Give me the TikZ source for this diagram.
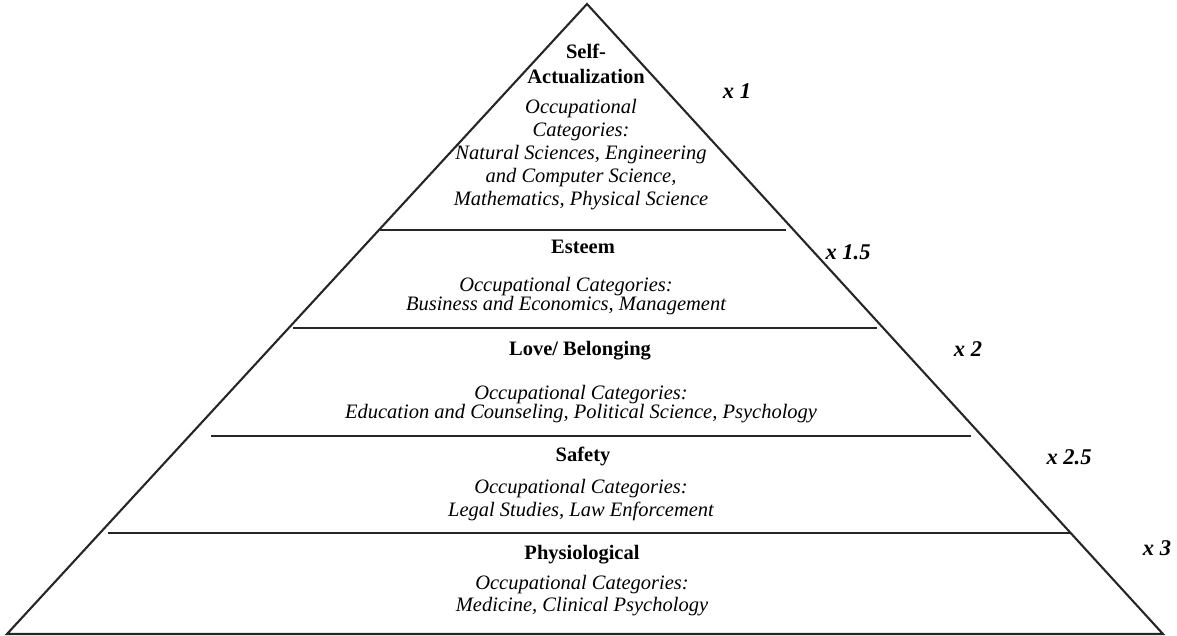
\documentclass[tikz,border=0pt]{standalone}
\usepackage{fontspec}
\setmainfont{Liberation Serif}
\begin{document}
\begin{tikzpicture}[x=1pt,y=-1pt,
  edge/.style={line width=2.1pt, black!85, line cap=round, line join=miter},
  divider/.style={line width=2.1pt, black!85},
  tiertitle/.style={font=\fontsize{20.5}{25}\selectfont\bfseries, align=center, inner sep=0pt},
  tierbody/.style={font=\fontsize{20.5}{23}\selectfont\itshape, align=center, inner sep=0pt},
  factor/.style={font=\fontsize{22.5}{25}\selectfont\bfseries\itshape, inner sep=0pt, text height=15pt, text depth=5pt}
]
\useasboundingbox (0,0) rectangle (1177,636);

% outline of the pyramid
\coordinate (apex) at (587,4);
\coordinate (baseL) at (7,634);
\coordinate (baseR) at (1163,634);
\draw[edge] (baseL) -- (apex) -- (baseR) -- cycle;

% dividers between the levels
\coordinate (d1L) at (380,230);  \coordinate (d1R) at (786,230);
\coordinate (d2L) at (293,328);  \coordinate (d2R) at (877,328);
\coordinate (d3L) at (211,436);  \coordinate (d3R) at (971,436);
\coordinate (d4L) at (108,533);  \coordinate (d4R) at (1070,533);
\draw[divider] (d1L) -- (d1R);
\draw[divider] (d2L) -- (d2R);
\draw[divider] (d3L) -- (d3R);
\draw[divider] (d4L) -- (d4R);

% level 1
\node[tiertitle] (selfT) at (586,64) {Self-\\Actualization};
\node[tierbody] (selfB) at (581,155) {Occupational\\Categories:\\Natural Sciences, Engineering\\and Computer Science,\\Mathematics, Physical Science};
% level 2
\node[tiertitle, text height=14pt, text depth=4.5pt] (estT) at (583,249) {Esteem};
\node[tierbody] (estB) at (566,296.5) {Occupational Categories:\\[-4pt]Business and Economics, Management};
% level 3
\node[tiertitle, text height=14pt, text depth=4.5pt] (loveT) at (580,351) {Love/ Belonging};
\node[tierbody] (loveB) at (581,404) {Occupational Categories:\\[-4pt]Education and Counseling, Political Science, Psychology};
% level 4
\node[tiertitle, text height=14pt, text depth=4.5pt] (safeT) at (583,457) {Safety};
\node[tierbody] (safeB) at (581,500.5) {Occupational Categories:\\Legal Studies, Law Enforcement};
% level 5
\node[tiertitle, text height=14pt, text depth=4.5pt] (physT) at (582,555) {Physiological};
\node[tierbody] (physB) at (582,596) {Occupational Categories:\\[-1pt]Medicine, Clinical Psychology};

% multipliers beside the levels
\node[factor] (f1) at (737,94) {x 1};
\node[factor] (f2) at (848,255) {x 1.5};
\node[factor] (f3) at (968,351) {x 2};
\node[factor] (f4) at (1069,459) {x 2.5};
\node[factor] (f5) at (1157,550) {x 3};
\end{tikzpicture}
\end{document}
